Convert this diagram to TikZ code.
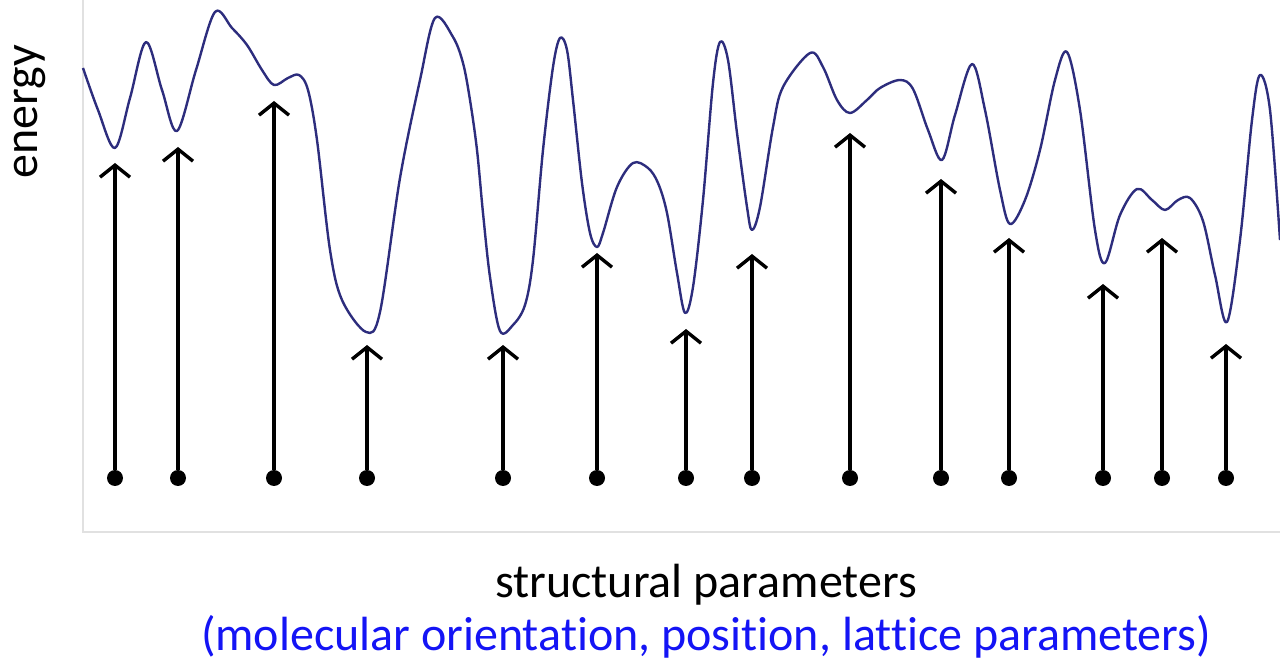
\documentclass[tikz,border=0pt]{standalone}
\usepackage{fontspec}
\setmainfont{Carlito}[Ligatures=NoCommon]
\usetikzlibrary{arrows.meta}
\definecolor{curveblue}{RGB}{45,45,125}
\definecolor{framegray}{RGB}{225,225,225}
\definecolor{notblue}{RGB}{20,20,245}

\begin{document}
\begin{tikzpicture}[x=0.5pt, y=-0.5pt, landscape/.style={curveblue, line width=1.2pt, line join=round}, frame/.style={framegray, line width=1pt}, up/.style={-{Straight Barb[length=6pt, width=15pt]}, line width=1.7pt}, dot/.style={circle, fill=black, inner sep=0pt, minimum size=8pt}, label/.style={font=\fontsize{24}{29}\selectfont}]
\useasboundingbox (0,0) rectangle (1280,662);

\coordinate (top) at (83,0); \coordinate (O) at (83,532); \coordinate (end) at (1280,532);
\draw[frame] (top) -- (O) -- (end);

\draw[landscape] plot[smooth, tension=0.55] coordinates {(83,68) (98,110) (115,148) (130,98) (146,42) (162,90) (177,131) (196,70) (215,12) (232,28) (247,45) (262,70) (274,85) (288,78) (299,75) (308,90) (317,140) (330,250) (342,300) (366,332) (380,312) (400,178) (420,80) (435,18) (453,37) (463,63) (470,100) (477,150) (483,213) (490,277) (500,331) (513,325) (525,305) (533,260) (543,150) (553,67) (560,38) (567,50) (573,100) (582,183) (590,233) (597,247) (603,233) (617,187) (633,163) (648,168) (658,183) (667,213) (677,273) (685,313) (693,287) (703,200) (713,83) (720,42) (728,60) (737,133) (747,207) (752,230) (760,207) (773,127) (783,87) (810,53) (823,67) (837,100) (850,113) (867,100) (880,88) (900,80) (913,89) (928,130) (942,160) (955,115) (972,64) (985,110) (1000,190) (1010,224) (1025,200) (1040,150) (1055,80) (1067,52) (1080,110) (1095,230) (1105,263) (1120,215) (1137,189) (1152,200) (1165,210) (1178,200) (1190,198) (1203,221) (1215,275) (1227,322) (1240,240) (1252,120) (1260,75) (1270,110) (1280,240)};

% minima and the starting points below them
\node[dot] (d1) at (115,478) {}; \coordinate (m1) at (115,163); \draw[up] (d1) -- (m1);
\node[dot] (d2) at (178,478) {}; \coordinate (m2) at (178,147); \draw[up] (d2) -- (m2);
\node[dot] (d3) at (274,478) {}; \coordinate (m3) at (274,101); \draw[up] (d3) -- (m3);
\node[dot] (d4) at (367,478) {}; \coordinate (m4) at (367,345); \draw[up] (d4) -- (m4);
\node[dot] (d5) at (503,478) {}; \coordinate (m5) at (503,345); \draw[up] (d5) -- (m5);
\node[dot] (d6) at (597,478) {}; \coordinate (m6) at (597,253); \draw[up] (d6) -- (m6);
\node[dot] (d7) at (686,478) {}; \coordinate (m7) at (686,329); \draw[up] (d7) -- (m7);
\node[dot] (d8) at (752,478) {}; \coordinate (m8) at (752,254); \draw[up] (d8) -- (m8);
\node[dot] (d9) at (850,478) {}; \coordinate (m9) at (850,133); \draw[up] (d9) -- (m9);
\node[dot] (d10) at (941,478) {}; \coordinate (m10) at (941,179); \draw[up] (d10) -- (m10);
\node[dot] (d11) at (1009,478) {}; \coordinate (m11) at (1009,238); \draw[up] (d11) -- (m11);
\node[dot] (d12) at (1103,478) {}; \coordinate (m12) at (1103,284); \draw[up] (d12) -- (m12);
\node[dot] (d13) at (1162,478) {}; \coordinate (m13) at (1162,238); \draw[up] (d13) -- (m13);
\node[dot] (d14) at (1226,478) {}; \coordinate (m14) at (1226,344); \draw[up] (d14) -- (m14);

\node[label, rotate=90] (energy) at (30,112) {energy};
\node[label] (xlabel) at (706,585) {structural parameters};
\node[label, notblue] (xnote) at (706,637) {(molecular orientation, position, lattice parameters)};
\end{tikzpicture}
\end{document}
